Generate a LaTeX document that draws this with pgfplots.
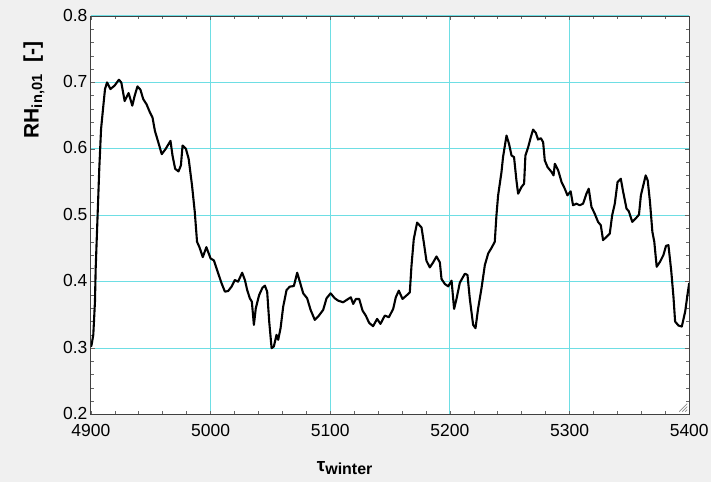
\documentclass[border=0pt]{standalone}
\usepackage{fontspec}
\setmainfont{Liberation Sans}
\usepackage{pgfplots}
\pgfplotsset{compat=1.18}
\definecolor{bgc}{RGB}{240,240,240}
\definecolor{gridc}{RGB}{110,222,228}
\begin{document}
\begin{tikzpicture}
\fill[bgc] (-91pt,-68pt) rectangle (621pt,415pt);
\begin{axis}[
  at={(0,0)}, anchor=south west,
  scale only axis, width=599pt, height=399pt,
  xmin=4900, xmax=5400, ymin=0.2, ymax=0.8,
  xtick={4900,5000,5100,5200,5300,5400},
  ytick={0.2,0.3,0.4,0.5,0.6,0.7,0.8},
  minor x tick num=4, minor y tick num=4,
  tick pos=both, tick align=inside,
  major tick length=4pt, minor tick length=3.5pt,
  every tick/.style={black!60, line width=0.6pt},
  axis line style={black!75, line width=0.8pt},
  axis background/.style={fill=white},
  grid=major,
  major grid style={gridc, line width=1.1pt},
  /pgf/number format/assume math mode=true,
  /pgf/number format/1000 sep={},
  yticklabel style={/pgf/number format/fixed, /pgf/number format/precision=1, /pgf/number format/fixed zerofill, font=\fontsize{17.5}{20}\selectfont, xshift=0pt, yshift=1pt},
  xticklabel style={font=\fontsize{17.5}{20}\selectfont, yshift=-6pt},
  clip=true,
]
\addplot[black, line width=2.1pt, line join=round] coordinates {
(4900,0.302) (4900.6,0.305) (4902,0.32) (4903.4,0.37) (4904,0.42) (4905.6,0.50) (4907,0.57) (4908.5,0.63) (4910.4,0.665) (4911.8,0.69) (4913.5,0.70) (4916.3,0.69) (4919.7,0.695) (4923.4,0.704) (4925.4,0.70) (4928.2,0.672) (4931.5,0.684) (4934.6,0.665) (4936.6,0.68) (4938.9,0.694) (4941.4,0.689) (4943.7,0.675) (4946.5,0.667) (4949.3,0.655) (4951.5,0.647) (4953.5,0.627) (4956.3,0.61) (4959.2,0.592) (4962.5,0.60) (4966.5,0.612) (4968.2,0.59) (4970.4,0.57) (4973.2,0.566) (4975.2,0.575) (4976.6,0.605) (4979.4,0.60) (4981.7,0.585) (4984.5,0.545) (4986.8,0.505) (4988.7,0.46) (4990.7,0.452) (4993.5,0.437) (4996.5,0.452) (5000,0.435) (5002.8,0.432) (5006.4,0.4125) (5009.2,0.3975) (5012,0.385) (5014.7,0.386) (5017.5,0.3925) (5020.3,0.4025) (5023,0.40) (5026.4,0.4135) (5028.7,0.4025) (5030.6,0.3875) (5032.8,0.375) (5034.5,0.37) (5036.2,0.335) (5037.8,0.36) (5040.6,0.38) (5043.4,0.391) (5045.4,0.394) (5047.3,0.385) (5049,0.34) (5051,0.30) (5052.9,0.3025) (5055.1,0.32) (5056.5,0.3125) (5058.5,0.33) (5060.7,0.3625) (5063.5,0.3875) (5066.2,0.3925) (5069.6,0.3935) (5072.4,0.4135) (5074.6,0.40) (5077.4,0.3825) (5080.7,0.375) (5083.6,0.3575) (5087.1,0.3425) (5089.9,0.3475) (5094.1,0.3575) (5096.9,0.375) (5100.3,0.3825) (5103.8,0.375) (5106.6,0.3715) (5110.8,0.369) (5115,0.374) (5117.2,0.3765) (5119.2,0.3665) (5121.4,0.374) (5124.2,0.374) (5127,0.3565) (5129.7,0.349) (5132.5,0.338) (5135.8,0.333) (5139.2,0.344) (5142,0.3365) (5145.6,0.349) (5149,0.3465) (5152.6,0.359) (5154.8,0.3765) (5157.3,0.3865) (5160.4,0.374) (5164.2,0.38) (5166.5,0.384) (5167.9,0.424) (5169.8,0.464) (5172.6,0.489) (5176.3,0.4815) (5178.2,0.459) (5180.4,0.4315) (5183.2,0.4215) (5186,0.429) (5188.8,0.438) (5191.6,0.429) (5193,0.404) (5195.8,0.3965) (5198.6,0.393) (5201.4,0.4015) (5203.5,0.359) (5205.5,0.374) (5208.3,0.3985) (5212.5,0.412) (5214.7,0.41) (5216.6,0.375) (5219.4,0.335) (5221.4,0.33) (5223.6,0.36) (5226.4,0.39) (5229.2,0.425) (5232,0.4425) (5234.8,0.451) (5237.5,0.46) (5238.9,0.50) (5240.3,0.53) (5243.1,0.565) (5244.4,0.5875) (5247.3,0.62) (5249.4,0.6075) (5251.5,0.59) (5253.6,0.5875) (5255.6,0.5525) (5257,0.5325) (5259.8,0.5425) (5262,0.5475) (5263.1,0.59) (5265.4,0.6025) (5267.6,0.6175) (5269.5,0.629) (5271.8,0.624) (5273.7,0.614) (5276,0.616) (5277.9,0.61) (5279.3,0.5825) (5281.6,0.5725) (5285,0.565) (5286.6,0.56) (5287.7,0.5775) (5290.5,0.5675) (5293.3,0.55) (5296,0.54) (5298.2,0.53) (5300.9,0.536) (5302.9,0.515) (5305.7,0.5175) (5308.5,0.515) (5311.3,0.5175) (5314.1,0.5325) (5316,0.54) (5318.3,0.5125) (5321,0.5025) (5323.8,0.49) (5326.1,0.485) (5328,0.4625) (5330.8,0.4675) (5333.6,0.4725) (5335.6,0.50) (5337.8,0.5175) (5340.1,0.55) (5342.8,0.555) (5344.8,0.535) (5347.6,0.51) (5349.5,0.506) (5352.4,0.49) (5355.2,0.495) (5358,0.501) (5359.6,0.53) (5361.6,0.545) (5363.6,0.56) (5365.3,0.5525) (5367.2,0.52) (5369.2,0.475) (5370.8,0.46) (5372.8,0.4225) (5375.6,0.43) (5378.4,0.44) (5380.6,0.454) (5382.6,0.455) (5384.9,0.4175) (5386.8,0.3775) (5388.2,0.34) (5391,0.334) (5393.8,0.3325) (5396.6,0.355) (5398.9,0.385) (5400,0.398)
};
\end{axis}
% resize grip
\draw[black!45, line width=0.7pt] (589pt,3pt) -- (597pt,11pt);
\draw[black!45, line width=0.7pt] (592pt,3pt) -- (597pt,8pt);
\draw[black!45, line width=0.7pt] (595pt,3pt) -- (597pt,5pt);
% axis labels
\node[rotate=90, font=\fontsize{21}{24}\selectfont\bfseries] at (-57pt,325pt) {RH\textsubscript{in,01}\ \ [-]};
\node[font=\fontsize{19}{22}\selectfont\bfseries, anchor=base] at (254pt,-57pt) {τ\raisebox{-3pt}{\fontsize{16}{18}\selectfont winter}};
\end{tikzpicture}
\end{document}
